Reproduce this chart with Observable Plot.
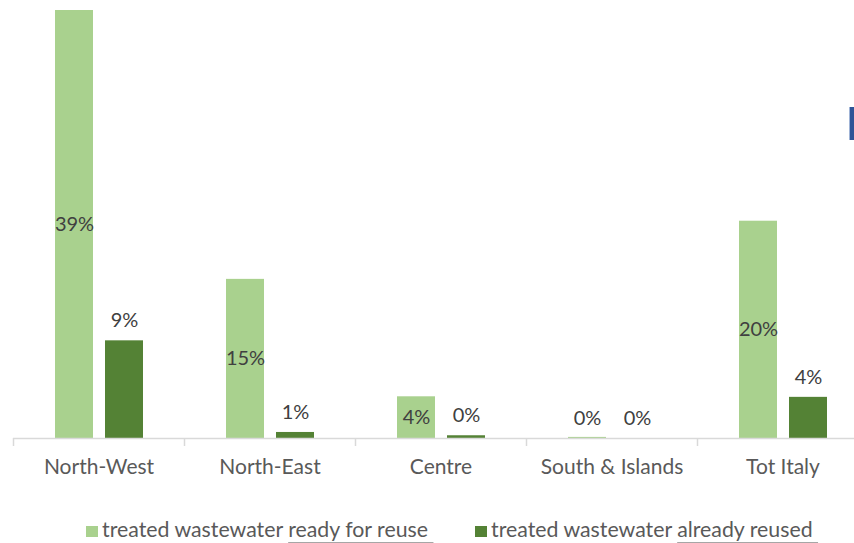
<!DOCTYPE html>
<html>
<head>
<meta charset="utf-8">
<script src="https://cdn.jsdelivr.net/npm/d3@7"></script>
<script src="https://cdn.jsdelivr.net/npm/@observablehq/plot@0.6"></script>
<style>
  html, body { margin: 0; padding: 0; background: #fff; overflow: hidden; width: 854px; height: 543px; }
  #wrap { position: relative; width: 868px; }
  #chart svg { max-width: none !important; }
  #legend { position: absolute; left: 0; top: 516px; width: 854px; font-family: Lato, sans-serif; font-size: 21.3px; color: #595959; white-space: nowrap; }
  .item { position: absolute; top: 0; }
  .sw { display: inline-block; width: 12px; height: 11px; margin-right: 4px; vertical-align: 0px; }
  .u { text-decoration: underline; text-decoration-color: #a6a6a6; text-underline-offset: 5px; text-decoration-thickness: 1.5px; }
  #artifact { position: absolute; left: 849px; top: 107px; width: 5px; height: 33px; background: #2f5597; border-left: 1px solid #9fb3d6; box-sizing: border-box; }
</style>
</head>
<body>
<div id="wrap">
  <div id="chart"></div>
  <div id="artifact"></div>
  <div id="legend">
    <div class="item" style="left:86px"><span class="sw" style="background:#a9d18e"></span>treated wastewater <span class="u">ready for reuse&nbsp;</span></div>
    <div class="item" style="left:475px"><span class="sw" style="background:#548235"></span>treated wastewater <span class="u">already reused&nbsp;</span></div>
  </div>
</div>
<script>
const regions = ["North-West", "North-East", "Centre", "South & Islands", "Tot Italy"];
const seriesNames = ["treated wastewater ready for reuse", "treated wastewater already reused"];
const readyForReuse = [39, 14.5, 3.8, 0.1, 19.8];
const alreadyReused = [8.9, 0.55, 0.25, 0, 3.75];
const readyLabels = ["39%", "15%", "4%", "0%", "20%"];
const reusedLabels = ["9%", "1%", "0%", "0%", "4%"];

const colors = ["#a9d18e", "#548235"];

const ready = regions.map((r, i) => ({i, region: r, value: readyForReuse[i], label: readyLabels[i]}));
const reused = regions.map((r, i) => ({i, region: r, value: alreadyReused[i], label: reusedLabels[i]}));

const font = "Lato, sans-serif";

const chart = Plot.plot({
  width: 868,
  height: 495,
  marginLeft: 13,
  marginRight: 0,
  marginTop: 10,
  marginBottom: 57,
  style: {fontFamily: font, fontSize: "20px", color: "#595959", maxWidth: "none", overflow: "visible"},
  x: {domain: [0, regions.length], axis: null},
  y: {domain: [0, 39], axis: null},
  marks: [
    Plot.rectY(ready, {x1: d => d.i, x2: d => d.i + 1, y: "value", fill: colors[0], insetLeft: 42, insetRight: 91}),
    Plot.rectY(reused, {x1: d => d.i, x2: d => d.i + 1, y: "value", fill: colors[1], insetLeft: 92, insetRight: 41}),
    Plot.ruleY([0], {stroke: "#d9d9d9", strokeWidth: 1.5}),
    Plot.axisX({ticks: d3.range(regions.length + 1), tickSize: 8, tickFormat: () => "", stroke: "#d9d9d9", strokeWidth: 1.5, label: null}),
    Plot.axisX({ticks: d3.range(regions.length).map(i => i + 0.5), tickSize: 0, tickPadding: 21,
      tickFormat: v => regions[Math.floor(v)], fill: "#595959", fontSize: 21, label: null}),
    Plot.text(ready, {x: d => d.i + 0.5, y: d => Math.max(d.value / 2, 1.8), text: "label", dx: -24.5,
      fill: "#404040", fontSize: 20}),
    Plot.text(reused, {x: d => d.i + 0.5, y: "value", text: "label", dx: 25.5, dy: -20,
      fill: "#404040", fontSize: 20})
  ]
});
document.getElementById("chart").appendChild(chart);
</script>
</body>
</html>
